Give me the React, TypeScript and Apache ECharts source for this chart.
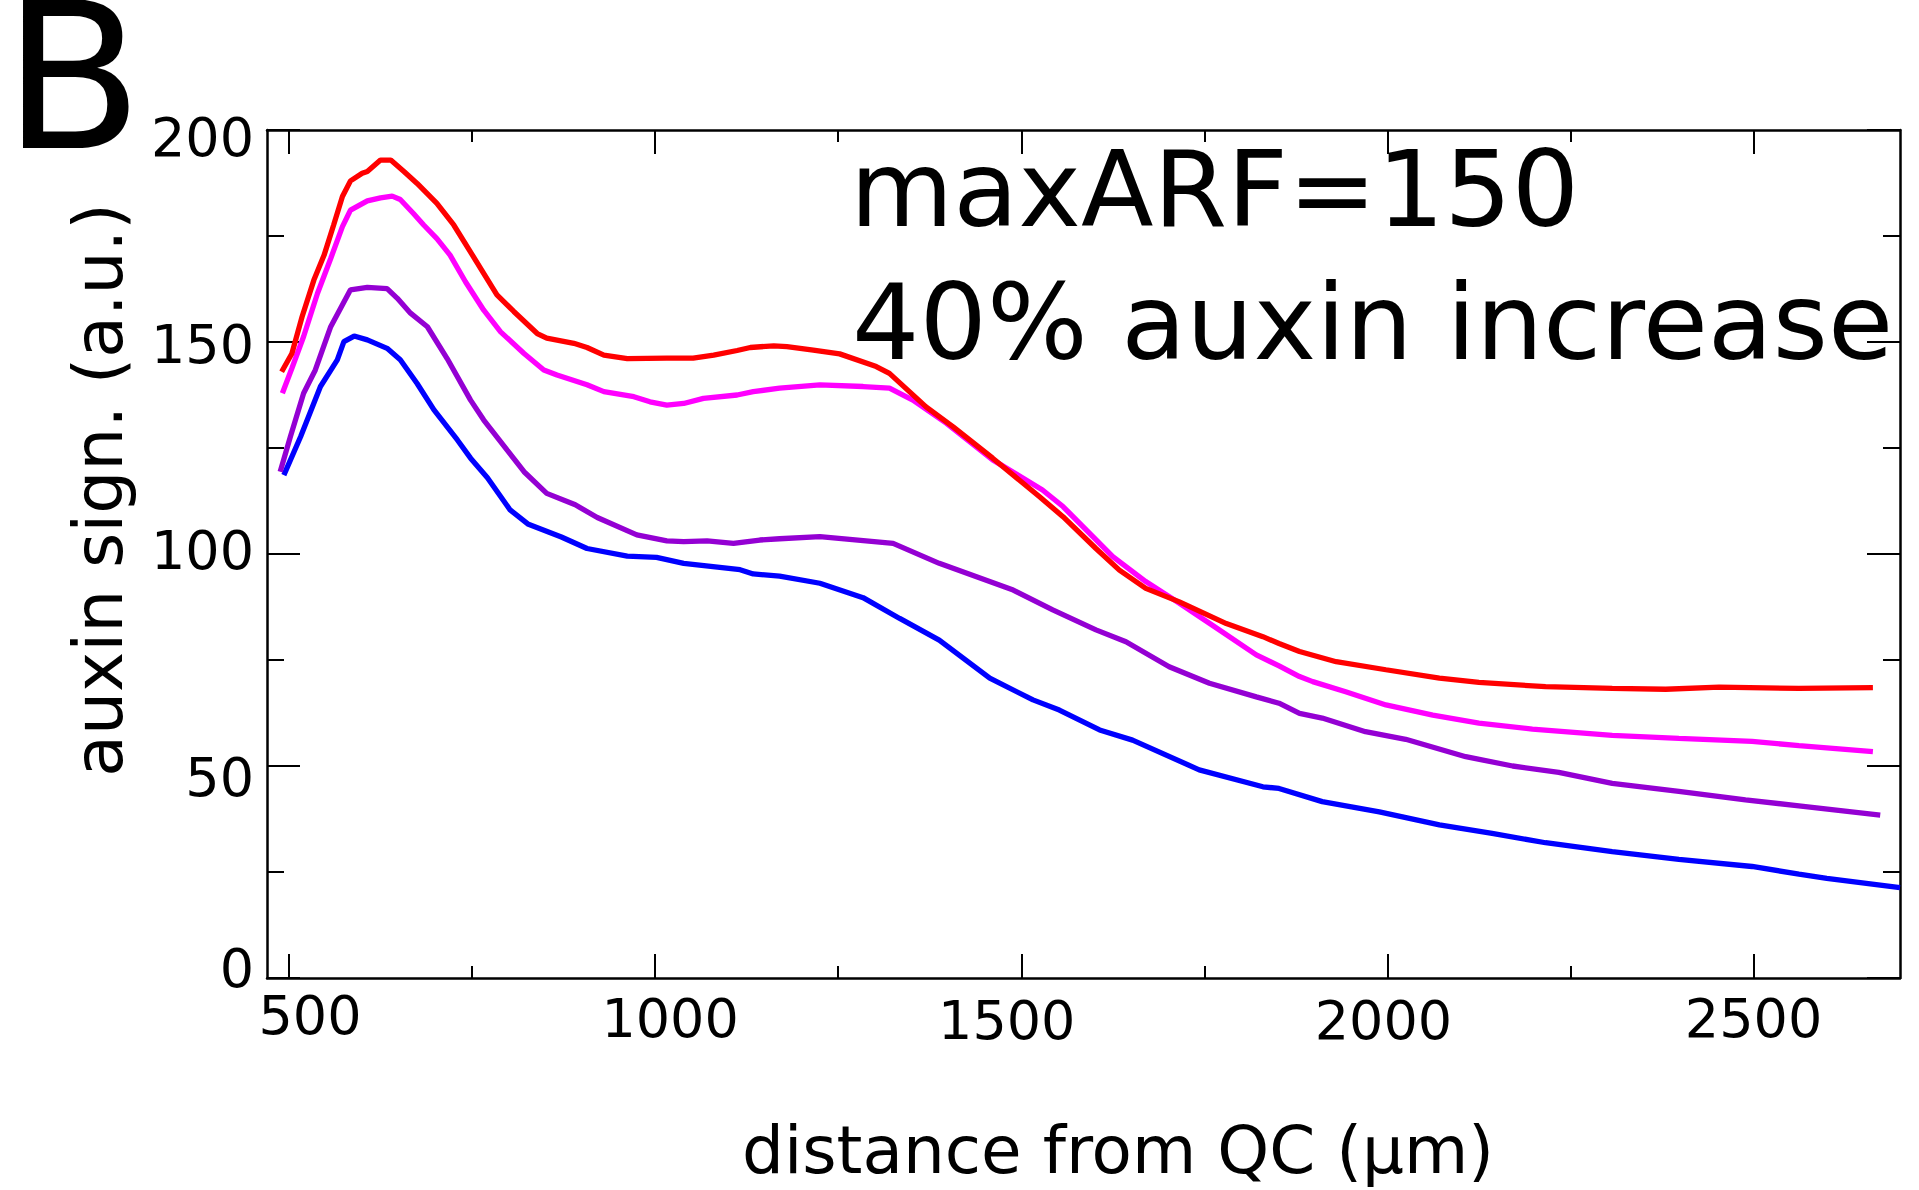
import React, { useEffect, useRef } from "react";
import * as echarts from "echarts";

const xMajorTicks = [500, 1000, 1500, 2000, 2500];
const xMinorTicks = [750, 1250, 1750, 2250];
const yTicks = [0, 50, 100, 150, 200];

const seriesNames = ["red", "magenta", "purple", "blue"];
const seriesColors = ["#ff0000", "#ff00ff", "#9400d3", "#0000ff"];

const redData: [number, number][] = [
  [490, 143.0], [504, 147.3], [518, 156.0], [534, 164.6], [548, 170.5], [561, 177.6], [573, 184.3],
  [584, 188.0], [600, 189.8], [607, 190.2], [625, 192.9], [639, 192.9], [657, 190.2], [675, 187.4],
  [702, 182.7], [725, 177.6], [752, 170.1], [784, 161.1], [807, 157.2], [839, 152.0], [852, 150.9],
  [889, 149.7], [907, 148.7], [930, 146.9], [962, 146.1], [1016, 146.2], [1052, 146.2], [1080, 146.9],
  [1112, 148.0], [1130, 148.7], [1162, 149.1], [1180, 148.9], [1216, 148.1], [1252, 147.2], [1302, 144.2],
  [1320, 142.6], [1370, 134.7], [1407, 130.0], [1461, 122.6], [1525, 113.5], [1557, 108.8], [1602, 101.3],
  [1634, 96.2], [1670, 91.9], [1716, 88.7], [1780, 83.6], [1830, 80.5], [1852, 78.9], [1880, 77.0],
  [1930, 74.6], [1998, 72.7], [2071, 70.7], [2125, 69.7], [2216, 68.7], [2307, 68.3], [2380, 68.1],
  [2453, 68.6], [2562, 68.3], [2663, 68.5],
];

const magentaData: [number, number][] = [
  [491, 137.9], [504, 143.8], [520, 151.3], [539, 161.5], [557, 169.7], [573, 177.2], [584, 181.1],
  [607, 183.3], [625, 184.0], [641, 184.4], [652, 183.6], [670, 180.3], [684, 177.6], [702, 174.4],
  [720, 170.5], [741, 164.2], [766, 157.5], [789, 152.4], [821, 147.3], [848, 143.4], [866, 142.2],
  [907, 139.9], [930, 138.3], [971, 137.1], [993, 135.9], [1016, 135.1], [1039, 135.5], [1066, 136.7],
  [1112, 137.5], [1134, 138.3], [1170, 139.1], [1225, 139.9], [1284, 139.5], [1320, 139.1], [1352, 136.3],
  [1398, 130.8], [1461, 122.2], [1529, 115.1], [1557, 111.2], [1625, 99.4], [1670, 93.5], [1716, 88.4],
  [1761, 83.2], [1821, 76.2], [1852, 73.6], [1880, 71.1], [1898, 69.9], [1943, 67.5], [1998, 64.4],
  [2062, 62.0], [2125, 60.1], [2198, 58.7], [2307, 57.2], [2398, 56.5], [2498, 55.8], [2562, 54.8],
  [2663, 53.4],
];

const purpleData: [number, number][] = [
  [488, 119.4], [502, 127.7], [520, 137.9], [536, 143.4], [557, 153.6], [584, 162.3], [607, 162.9],
  [634, 162.6], [648, 160.3], [666, 156.8], [689, 153.6], [716, 146.1], [748, 136.3], [766, 131.6],
  [798, 124.5], [821, 119.4], [852, 114.3], [891, 111.6], [921, 108.6], [975, 104.5], [1016, 103.1],
  [1039, 102.9], [1071, 103.1], [1107, 102.5], [1143, 103.3], [1170, 103.6], [1225, 104.1], [1325, 102.5],
  [1388, 97.8], [1489, 91.5], [1543, 86.8], [1602, 82.1], [1643, 79.3], [1702, 73.4], [1757, 69.5],
  [1821, 66.3], [1852, 64.8], [1880, 62.4], [1911, 61.3], [1970, 58.1], [2025, 56.3], [2107, 52.2],
  [2171, 50.0], [2234, 48.5], [2307, 45.9], [2398, 44.0], [2489, 42.0], [2562, 40.6], [2673, 38.4],
];

const blueData: [number, number][] = [
  [493, 118.6], [516, 127.7], [543, 139.5], [566, 145.8], [575, 150.1], [589, 151.4], [607, 150.5],
  [634, 148.5], [652, 145.8], [675, 140.2], [698, 134.0], [730, 126.9], [748, 122.6], [771, 118.0],
  [802, 110.4], [827, 107.0], [872, 104.0], [907, 101.3], [962, 99.5], [1002, 99.2], [1039, 97.8],
  [1116, 96.3], [1134, 95.3], [1170, 94.8], [1225, 93.1], [1284, 89.7], [1334, 84.8], [1388, 79.7],
  [1457, 70.7], [1516, 65.6], [1552, 63.2], [1607, 58.5], [1652, 56.1], [1743, 49.1], [1830, 45.1],
  [1852, 44.7], [1911, 41.6], [1989, 39.2], [2071, 36.1], [2143, 34.1], [2216, 31.9], [2307, 29.8],
  [2398, 28.0], [2498, 26.3], [2562, 24.5], [2600, 23.5], [2700, 21.3],
];

const panelLabel = "B";
const xTitle = "distance from QC (μm)";
const yTitle = "auxin sign. (a.u.)";
const noteLines = ["maxARF=150", "40% auxin increase"];

const FONT = "DejaVu Sans";

// per-label padding [top, right, bottom, left] reproducing the slightly irregular label placement
const xLabelPad: Record<number, number[]> = {
  500: [2, 0, 0, 42],
  1000: [9, 0, 0, 30],
  1500: [13, 29, 0, 0],
  2000: [12, 8, 0, 0],
  2500: [8, 0, 0, 0],
};
const yLabelPad: Record<number, number[]> = {
  0: [0, 0, 20, 0],
  50: [22, 0, 0, 0],
  100: [0, 0, 8, 0],
  150: [4, 0, 0, 0],
  200: [14, 0, 0, 0],
};

export default function App() {
  const ref = useRef<HTMLDivElement>(null);

  useEffect(() => {
    if (!ref.current) return;
    const chart = echarts.init(ref.current, null, { renderer: "svg" });
    const black = "#000";
    const tickLine = { color: black, width: 2 };
    const frameLine = { show: true, onZero: false, lineStyle: { color: black, width: 2.5 } };
    const xBase = {
      type: "value",
      min: 470,
      max: 2700,
      splitLine: { show: false },
    };
    const yBase = {
      type: "value",
      min: 0,
      max: 200,
      interval: 50,
      splitLine: { show: false },
      minorSplitLine: { show: false },
      axisLine: frameLine,
      axisTick: { show: true, inside: true, length: 33, lineStyle: tickLine },
      minorTick: { show: true, splitNumber: 2, length: 17, lineStyle: tickLine },
    };
    const dataSets = [redData, magentaData, purpleData, blueData];
    const series = dataSets
      .map((d, i) => ({
        name: seriesNames[i],
        type: "line",
        data: d,
        xAxisIndex: 0,
        yAxisIndex: 0,
        showSymbol: false,
        symbol: "none",
        lineStyle: { color: seriesColors[i], width: 5.3 },
        itemStyle: { color: seriesColors[i] },
        z: 10 - i,
      }))
      .reverse();

    const textStyle = (
      text: string,
      fontSize: number,
      align: string,
      vAlign: string,
      lineHeight?: number
    ) => ({
      text,
      fontSize,
      fontFamily: FONT,
      fill: black,
      align,
      textAlign: align,
      verticalAlign: vAlign,
      textVerticalAlign: vAlign,
      ...(lineHeight ? { lineHeight } : {}),
    });

    const labelFont = { fontSize: 54, fontFamily: FONT, color: black };
    const xRich: Record<string, object> = {};
    xMajorTicks.forEach((v) => {
      xRich["x" + v] = { ...labelFont, lineHeight: 44, padding: xLabelPad[v] };
    });
    const yRich: Record<string, object> = {};
    yTicks.forEach((v) => {
      yRich["y" + v] = { ...labelFont, lineHeight: 40, padding: yLabelPad[v] };
    });

    chart.setOption({
      animation: false,
      grid: { left: 267, right: 19, top: 130, bottom: 212, containLabel: false },
      xAxis: [
        {
          ...xBase,
          position: "bottom",
          axisLine: frameLine,
          axisTick: { show: true, inside: true, length: 24, customValues: xMajorTicks, lineStyle: tickLine },
          axisLabel: {
            show: true,
            customValues: xMajorTicks,
            formatter: (v: number) => `{x${v}|${v}}`,
            rich: xRich,
            margin: 14,
            ...labelFont,
            lineHeight: 44,
          },
        },
        {
          ...xBase,
          position: "bottom",
          axisLine: { show: false, onZero: false },
          axisTick: { show: true, inside: true, length: 12, customValues: xMinorTicks, lineStyle: tickLine },
          axisLabel: { show: false },
        },
        {
          ...xBase,
          position: "top",
          axisLine: frameLine,
          axisTick: { show: true, inside: true, length: 24, customValues: xMajorTicks, lineStyle: tickLine },
          axisLabel: { show: false },
        },
        {
          ...xBase,
          position: "top",
          axisLine: { show: false, onZero: false },
          axisTick: { show: true, inside: true, length: 12, customValues: xMinorTicks, lineStyle: tickLine },
          axisLabel: { show: false },
        },
      ],
      yAxis: [
        {
          ...yBase,
          position: "left",
          axisLabel: {
            show: true,
            customValues: yTicks,
            formatter: (v: number) => `{y${v}|${v}}`,
            rich: yRich,
            margin: 13,
            ...labelFont,
            lineHeight: 40,
          },
        },
        {
          ...yBase,
          position: "right",
          axisLabel: { show: false },
        },
      ],
      graphic: [
        { type: "text", x: 3, y: 77, style: textStyle(panelLabel, 204, "left", "middle", 150) },
        { type: "text", x: 850, y: 189, style: textStyle(noteLines[0], 106, "left", "middle") },
        { type: "text", x: 852, y: 322, style: textStyle(noteLines[1], 106, "left", "middle") },
        { type: "text", x: 1118, y: 1150, style: textStyle(xTitle, 66, "center", "middle") },
        {
          type: "text",
          x: 98,
          y: 490,
          rotation: Math.PI / 2,
          style: textStyle(yTitle, 68, "center", "middle"),
        },
      ],
      series,
    });

    return () => {
      chart.dispose();
    };
  }, []);

  return (
    <div
      ref={ref}
      style={{ position: "fixed", left: 0, top: 0, width: 1919, height: 1190, background: "#fff" }}
    />
  );
}
